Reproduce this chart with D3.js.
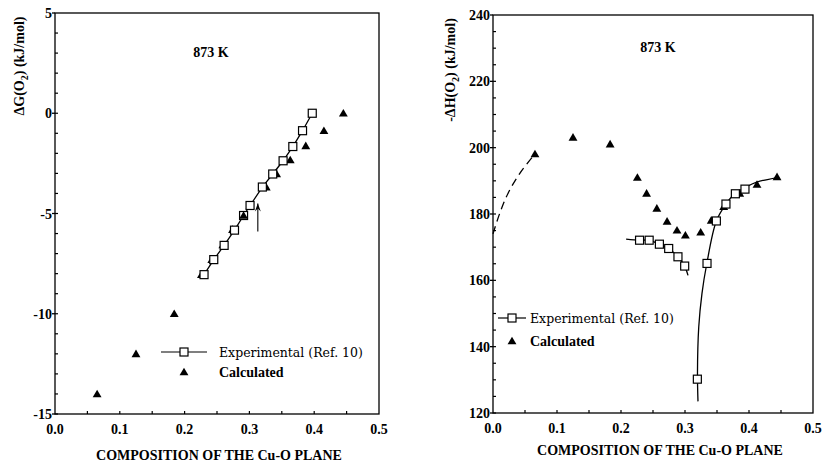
<!DOCTYPE html>
<html>
<head>
<meta charset="utf-8">
<script src="https://cdn.jsdelivr.net/npm/d3@7"></script>
<style>
  body { margin: 0; background: #fff; }
</style>
</head>
<body>
<div id="chart"></div>
<script>
// left panel: dG(O2) vs composition
const gExpX = [0.230, 0.245, 0.261, 0.277, 0.291, 0.301, 0.320, 0.336, 0.352, 0.367, 0.382, 0.397];
const gExpY = [-8.05, -7.3, -6.59, -5.83, -5.1, -4.6, -3.68, -3.03, -2.37, -1.66, -0.87, 0];
const gCalcX = [0.065, 0.125, 0.184, 0.226, 0.242, 0.259, 0.274, 0.291, 0.301, 0.326, 0.342, 0.363, 0.387, 0.415, 0.445];
const gCalcY = [-14, -12, -10, -8.05, -7.3, -6.57, -5.8, -5.1, -4.6, -3.68, -3.03, -2.33, -1.63, -0.87, 0];
const gArrow = { x: 0.313, from: -5.9, to: -4.5 };
const gTicksY = [-15, -10, -5, 0, 5];

// right panel: -dH(O2) vs composition
const hExpLowX = [0.229, 0.244, 0.260, 0.2745, 0.289, 0.2995];
const hExpLowY = [172.1, 172.1, 170.9, 169.6, 167.1, 164.3];
const hLowLineX = [0.208, 0.229, 0.244, 0.260, 0.2745, 0.289, 0.2995, 0.3047];
const hLowLineY = [172.4, 172.1, 172.1, 170.9, 169.6, 167.1, 164.3, 161.5];
const hExpHighX = [0.3193, 0.3344, 0.349, 0.364, 0.3787, 0.3937];
const hExpHighY = [130.2, 165.1, 177.9, 183, 186.1, 187.5];
const hFitX = [0.3203, 0.3195, 0.3215, 0.3265, 0.334, 0.349, 0.364, 0.379, 0.394, 0.412, 0.444];
const hFitY = [123.5, 132, 146, 156, 165, 177.9, 183, 186.3, 188, 189.6, 191];
const hDashX = [0, 0.0105, 0.0234, 0.0417, 0.0656];
const hDashY = [174, 180.2, 186.2, 192.2, 198.1];
const hCalcX = [0.0656, 0.125, 0.183, 0.2256, 0.240, 0.256, 0.272, 0.2875, 0.3006, 0.3245, 0.341, 0.3605, 0.3855, 0.4125, 0.4438];
const hCalcY = [198.1, 203.1, 201.1, 191, 186.2, 181.7, 177.8, 175.1, 173.6, 174.5, 178.1, 182.2, 186.2, 188.9, 191.2];
const hTicksY = [120, 140, 160, 180, 200, 220, 240];

const xTicks = [0.0, 0.1, 0.2, 0.3, 0.4, 0.5];
const xLabel = "COMPOSITION OF THE Cu-O PLANE";
const tempLabel = "873 K";
const legendExp = "Experimental (Ref. 10)";
const legendCalc = "Calculated";

const SERIF = "'Liberation Serif', 'Times New Roman', Times, serif";
const LEGEND_SERIF = "'DejaVu Serif', 'Liberation Serif', serif";

const zip = (xs, ys) => xs.map((x, i) => [x, ys[i]]);

const svg = d3.select("#chart").append("svg")
  .attr("width", 822)
  .attr("height", 464)
  .style("font-family", SERIF);

function triangle(g, x, y) {
  g.append("path")
    .attr("d", d3.symbol().type(d3.symbolTriangle).size(34)())
    .attr("transform", `translate(${x},${y + 0.8})`)
    .attr("fill", "#000");
}

function square(g, x, y) {
  g.append("rect")
    .attr("x", x - 4).attr("y", y - 4)
    .attr("width", 8).attr("height", 8)
    .attr("fill", "#fff").attr("stroke", "#000").attr("stroke-width", 1.2);
}

function panel(opt) {
  const x = d3.scaleLinear().domain([0, 0.5]).range([opt.left, opt.right]);
  const y = d3.scaleLinear().domain(opt.yDomain).range([opt.bottom, opt.top]);
  const g = svg.append("g");

  // frame
  g.append("rect")
    .attr("x", opt.left).attr("y", opt.top)
    .attr("width", opt.right - opt.left).attr("height", opt.bottom - opt.top)
    .attr("fill", "none").attr("stroke", "#000").attr("stroke-width", 1.3);

  // minor ticks, inside
  d3.range(0.05, 0.5, 0.05).forEach(v => {
    g.append("line").attr("x1", x(v)).attr("x2", x(v))
      .attr("y1", opt.bottom).attr("y2", opt.bottom - 3)
      .attr("stroke", "#000").attr("stroke-width", 1.2);
  });
  d3.range(opt.yDomain[0], opt.yDomain[1], opt.yMinor).forEach(v => {
    g.append("line").attr("x1", opt.left).attr("x2", opt.left + 3)
      .attr("y1", y(v)).attr("y2", y(v))
      .attr("stroke", "#000").attr("stroke-width", 1.2);
  });
  opt.yTicks.forEach(v => {
    g.append("line").attr("x1", opt.left - 3).attr("x2", opt.left)
      .attr("y1", y(v)).attr("y2", y(v))
      .attr("stroke", "#000").attr("stroke-width", 1.3);
  });

  // tick labels
  g.selectAll(".xt").data(xTicks).enter().append("text")
    .attr("x", d => x(d)).attr("y", opt.bottom + 20)
    .attr("text-anchor", "middle")
    .style("font-size", "14px").style("font-weight", "bold")
    .text(d => d3.format(".1f")(d));
  g.selectAll(".yt").data(opt.yTicks).enter().append("text")
    .attr("x", opt.left - 3).attr("y", d => y(d) + 5)
    .attr("text-anchor", "end")
    .style("font-size", "14px").style("font-weight", "bold")
    .text(d => d);

  // titles
  g.append("text")
    .attr("x", opt.xTitleX).attr("y", opt.xTitleY)
    .attr("text-anchor", "middle")
    .style("font-size", "14px").style("font-weight", "bold")
    .text(xLabel);
  const yt = g.append("text")
    .attr("transform", `translate(${opt.yTitleX},${opt.yTitleY}) rotate(-90)`)
    .attr("text-anchor", "middle")
    .style("font-size", "14px").style("font-weight", "bold");
  yt.append("tspan").text(opt.yTitle[0]);
  yt.append("tspan").style("font-size", "10px").attr("dy", 4).text("2");
  yt.append("tspan").attr("dy", -4).text(opt.yTitle[1]);

  g.append("text")
    .attr("x", opt.tempX).attr("y", opt.tempY)
    .attr("text-anchor", "middle")
    .style("font-size", "14px").style("font-weight", "bold")
    .text(tempLabel);

  // legend
  const lg = g.append("g");
  lg.append("line")
    .attr("x1", opt.legX - opt.legHalf).attr("x2", opt.legX + opt.legHalf)
    .attr("y1", opt.legY).attr("y2", opt.legY)
    .attr("stroke", "#000").attr("stroke-width", 1.2);
  square(lg, opt.legX, opt.legY);
  triangle(lg, opt.legX, opt.legY + opt.legGap);
  lg.append("text")
    .attr("x", opt.legTextX).attr("y", opt.legY + 5)
    .style("font-family", LEGEND_SERIF)
    .style("font-size", "12.5px")
    .text(legendExp);
  lg.append("text")
    .attr("x", opt.legTextX).attr("y", opt.legY + opt.legGap + 5)
    .style("font-size", "14px").style("font-weight", "bold")
    .text(legendCalc);

  return { g, x, y };
}

// ---- left panel ----
const L = panel({
  left: 55, right: 379, top: 13, bottom: 414,
  yDomain: [-15, 5], yMinor: 1, yTicks: gTicksY,
  xTitleX: 219, xTitleY: 460, yTitleX: 24, yTitleY: 66,
  yTitle: ["\u0394G(O", ") (kJ/mol)"],
  tempX: 211, tempY: 57,
  legX: 184, legY: 352, legHalf: 23, legGap: 20, legTextX: 219
});

const gLine = d3.line().x(d => L.x(d[0])).y(d => L.y(d[1]));
L.g.append("path")
  .datum(zip(gExpX, gExpY))
  .attr("d", gLine)
  .attr("fill", "none").attr("stroke", "#000").attr("stroke-width", 1.3);
zip(gCalcX, gCalcY).forEach(d => triangle(L.g, L.x(d[0]), L.y(d[1])));
zip(gExpX, gExpY).forEach(d => square(L.g, L.x(d[0]), L.y(d[1])));
// overlapping filled points
triangle(L.g, L.x(gCalcX[7]), L.y(gCalcY[7]));

// arrow
L.g.append("line")
  .attr("x1", L.x(gArrow.x)).attr("x2", L.x(gArrow.x))
  .attr("y1", L.y(gArrow.from)).attr("y2", L.y(gArrow.to))
  .attr("stroke", "#000").attr("stroke-width", 1.1);
L.g.append("path")
  .attr("d", `M${L.x(gArrow.x)},${L.y(gArrow.to)} l-3,8 l3,-3 l3,3 z`)
  .attr("fill", "#000");

// ---- right panel ----
const R = panel({
  left: 493, right: 813, top: 15, bottom: 413,
  yDomain: [120, 240], yMinor: 5, yTicks: hTicksY,
  xTitleX: 660, xTitleY: 455, yTitleX: 455, yTitleY: 70,
  yTitle: ["-\u0394H(O", ") (kJ/mol)"],
  tempX: 658, tempY: 52,
  legX: 512, legY: 318, legHalf: 14, legGap: 23, legTextX: 530
});

const hCurve = d3.line().x(d => R.x(d[0])).y(d => R.y(d[1])).curve(d3.curveCatmullRom.alpha(0.5));

R.g.append("path")
  .datum(zip(hDashX, hDashY))
  .attr("d", hCurve)
  .attr("fill", "none").attr("stroke", "#000").attr("stroke-width", 1.3)
  .attr("stroke-dasharray", "8,5");
R.g.append("path")
  .datum(zip(hLowLineX, hLowLineY))
  .attr("d", hCurve)
  .attr("fill", "none").attr("stroke", "#000").attr("stroke-width", 1.3);
R.g.append("path")
  .datum(zip(hFitX, hFitY))
  .attr("d", hCurve)
  .attr("fill", "none").attr("stroke", "#000").attr("stroke-width", 1.3);

zip(hCalcX, hCalcY).forEach(d => triangle(R.g, R.x(d[0]), R.y(d[1])));
zip(hExpLowX, hExpLowY).forEach(d => square(R.g, R.x(d[0]), R.y(d[1])));
zip(hExpHighX, hExpHighY).forEach(d => square(R.g, R.x(d[0]), R.y(d[1])));
</script>
</body>
</html>
